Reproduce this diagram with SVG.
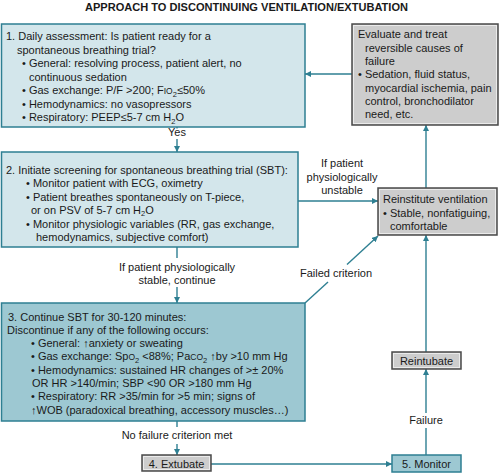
<svg xmlns="http://www.w3.org/2000/svg" width="500" height="474" viewBox="0 0 500 474">
<defs>
<style>
text{font-family:"Liberation Sans",Arial,sans-serif;font-size:11px;fill:#1a1a1a}
.title{font-weight:bold;font-size:11px}
.c{text-anchor:middle}
.lt{fill:#d3e6eb;stroke:#2e7f92;stroke-width:1.5}
.dk{fill:#9dc8d2;stroke:#2e7f92;stroke-width:1.5}
.gr{fill:#cdcdcd;stroke:#4a4a4a;stroke-width:1.5}
.gi{fill:none;stroke:#ffffff;stroke-opacity:0.6;stroke-width:1}
.ln{fill:none;stroke:#2e7f92;stroke-width:1.4}
.s{font-size:7.5px}
.sc{font-size:8.5px}
</style>
<marker id="ah" viewBox="0 0 10 10" refX="10" refY="5" markerWidth="6" markerHeight="6" orient="auto" markerUnits="userSpaceOnUse">
<path d="M0,0 L10,5 L0,10 Z" fill="#2e7f92"/>
</marker>
</defs>
<rect width="500" height="474" fill="#ffffff"/>
<text class="title" x="85" y="10.5" textLength="323" lengthAdjust="spacingAndGlyphs">APPROACH TO DISCONTINUING VENTILATION/EXTUBATION</text>

<g id="connectors">
<path class="ln" d="M177,127 V128.5"/>
<path class="ln" d="M177,139 V152" marker-end="url(#ah)"/>
<path class="ln" d="M177,247 V258"/>
<path class="ln" d="M177,287 V303" marker-end="url(#ah)"/>
<path class="ln" d="M177,421 V427"/>
<path class="ln" d="M177,444 V455" marker-end="url(#ah)"/>
<path class="ln" d="M211,464 H392" marker-end="url(#ah)"/>
<path class="ln" d="M426,455 V428"/>
<path class="ln" d="M426,413 V369" marker-end="url(#ah)"/>
<path class="ln" d="M426,352 V235" marker-end="url(#ah)"/>
<path class="ln" d="M426,188 V125" marker-end="url(#ah)"/>
<path class="ln" d="M352,74 H305" marker-end="url(#ah)"/>
<path class="ln" d="M298,201 H378" marker-end="url(#ah)"/>
<path class="ln" d="M305,303 L328,282"/>
<path class="ln" d="M347,264.5 L378,236" marker-end="url(#ah)"/>
<text class="c" x="177" y="136">Yes</text>
<text class="c" x="177" y="271">If patient physiologically</text>
<text class="c" x="177" y="284">stable, continue</text>
<text class="c" x="177" y="439">No failure criterion met</text>
<text class="c" x="426" y="424">Failure</text>
<text class="c" x="336" y="277">Failed criterion</text>
<text class="c" x="342" y="167">If patient</text>
<text class="c" x="342" y="181">physiologically</text>
<text class="c" x="342" y="194">unstable</text>
</g>

<g id="node1">
<rect class="lt" x="1.5" y="24" width="303.5" height="103"/>
<text x="6" y="40">1. Daily assessment: Is patient ready for a</text>
<text x="17" y="53.5">spontaneous breathing trial?</text>
<text x="22" y="67">• General: resolving process, patient alert, no</text>
<text x="29" y="80.5">continuous sedation</text>
<text x="22" y="94">• Gas exchange: P/F &gt;200; F<tspan class="sc">IO</tspan><tspan class="s" dy="2.5">2</tspan><tspan dy="-2.5">≤50%</tspan></text>
<text x="22" y="107.5">• Hemodynamics: no vasopressors</text>
<text x="22" y="121">• Respiratory: PEEP≤5-7 cm H<tspan class="s" dy="2.5">2</tspan><tspan dy="-2.5">O</tspan></text>
</g>

<g id="node2">
<rect class="lt" x="1.5" y="152" width="296.5" height="95"/>
<text x="6" y="174">2. Initiate screening for spontaneous breathing trial (SBT):</text>
<text x="26" y="187">• Monitor patient with ECG, oximetry</text>
<text x="26" y="200.5">• Patient breathes spontaneously on T-piece,</text>
<text x="31" y="213.5">or on PSV of 5-7 cm H<tspan class="s" dy="2.5">2</tspan><tspan dy="-2.5">O</tspan></text>
<text x="26" y="227.5">• Monitor physiologic variables (RR, gas exchange,</text>
<text x="36" y="241">hemodynamics, subjective comfort)</text>
</g>

<g id="node3">
<rect class="dk" x="1.5" y="303" width="303.5" height="118"/>
<text x="8" y="321">3. Continue SBT for 30-120 minutes:</text>
<text x="7" y="334">Discontinue if any of the following occurs:</text>
<text x="31" y="347">• General:  ↑anxiety or sweating</text>
<text x="31" y="360">• Gas exchange: Sp<tspan class="sc">O</tspan><tspan class="s" dy="2.5">2</tspan><tspan dy="-2.5"> &lt;88%; Pa</tspan><tspan class="sc">CO</tspan><tspan class="s" dy="2.5">2</tspan><tspan dy="-2.5"> ↑by &gt;10 mm Hg</tspan></text>
<text x="31" y="374">• Hemodynamics: sustained HR changes of &gt;± 20%</text>
<text x="32" y="387">OR HR &gt;140/min; SBP &lt;90 OR &gt;180 mm Hg</text>
<text x="31" y="400">• Respiratory: RR &gt;35/min for &gt;5 min; signs of</text>
<text x="31" y="414">↑WOB (paradoxical breathing, accessory muscles…)</text>
</g>

<g id="node4">
<rect class="gr" x="142" y="455" width="69" height="16"/>
<rect class="gi" x="143.5" y="456.5" width="66" height="13"/>
<text class="c" x="176.5" y="467.5">4. Extubate</text>
</g>

<g id="node5">
<rect class="dk" x="392" y="455" width="69" height="17"/>
<text class="c" x="426.5" y="468">5. Monitor</text>
</g>

<g id="reintubate">
<rect class="gr" x="392" y="352" width="69" height="17"/>
<rect class="gi" x="393.5" y="353.5" width="66" height="14"/>
<text class="c" x="426.5" y="365">Reintubate</text>
</g>

<g id="reinstitute">
<rect class="gr" x="378" y="188" width="119" height="47"/>
<rect class="gi" x="379.5" y="189.5" width="116" height="44"/>
<text x="383" y="203">Reinstitute ventilation</text>
<text x="383" y="217">• Stable, nonfatiguing,</text>
<text x="390" y="230">comfortable</text>
</g>

<g id="evaluate">
<rect class="gr" x="352" y="24" width="146" height="101"/>
<rect class="gi" x="353.5" y="25.5" width="143" height="98"/>
<text x="358" y="38">Evaluate and treat</text>
<text x="365" y="52">reversible causes of</text>
<text x="365" y="65">failure</text>
<text x="358" y="78">• Sedation, fluid status,</text>
<text x="365" y="92">myocardial ischemia, pain</text>
<text x="365" y="105">control, bronchodilator</text>
<text x="365" y="118">need, etc.</text>
</g>
</svg>
